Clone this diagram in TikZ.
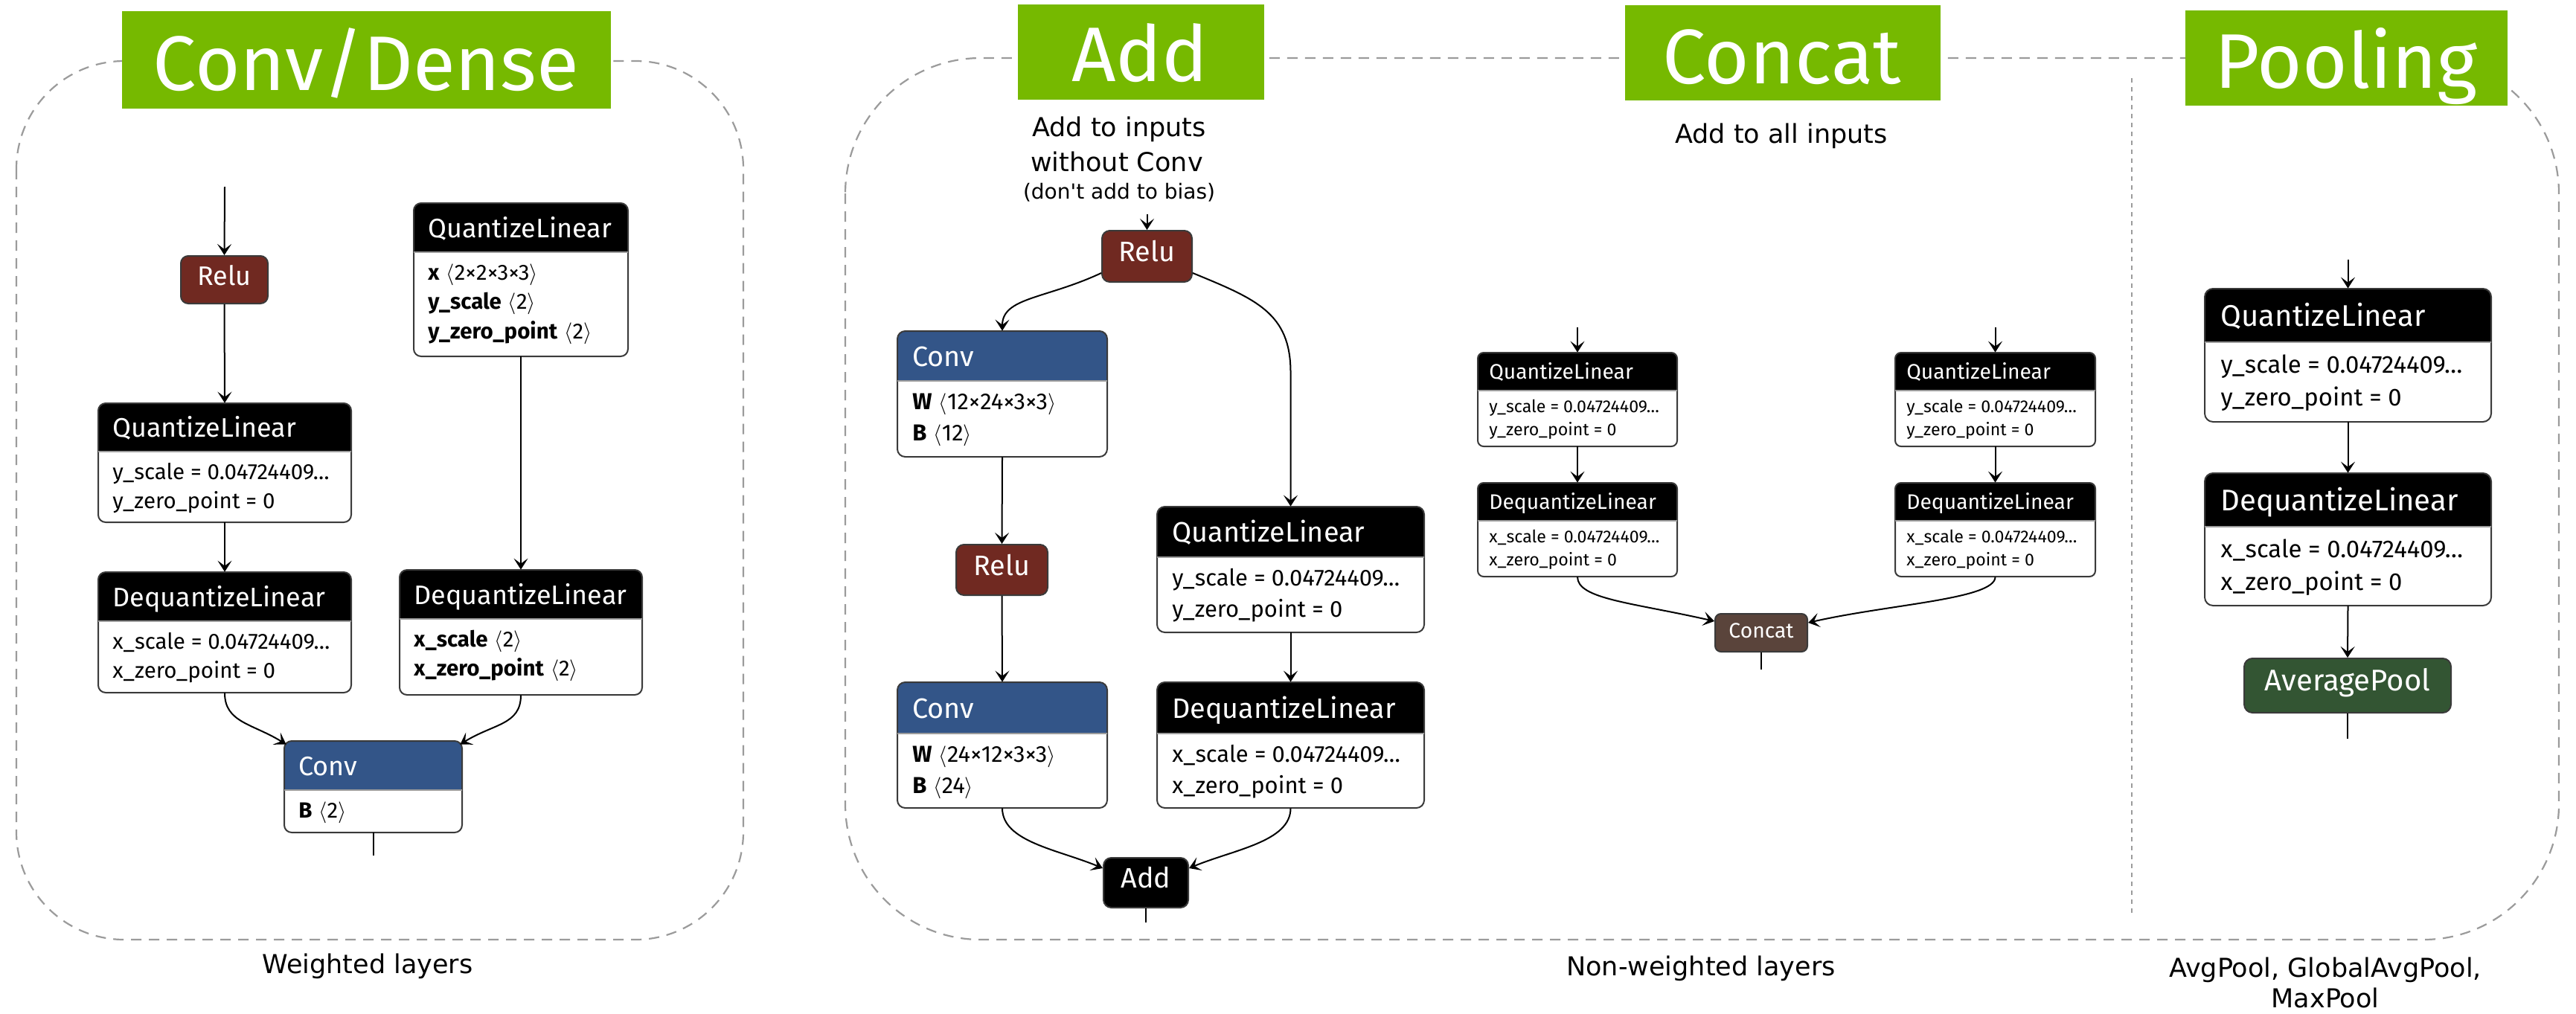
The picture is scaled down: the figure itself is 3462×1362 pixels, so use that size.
\documentclass[tikz,border=0pt]{standalone}
\usepackage{fontspec}
\setmainfont{Fira Sans}
\newfontfamily\nfont{Fira Sans}
\newfontfamily\capfont{DejaVu Sans}
\usetikzlibrary{arrows.meta,calc,fit}
\definecolor{nvgreen}{HTML}{76B900}
\definecolor{relucol}{HTML}{702921}
\definecolor{convcol}{HTML}{335588}
\definecolor{catcol}{HTML}{5A443B}
\definecolor{poolcol}{HTML}{335533}
\definecolor{nborder}{HTML}{3A3A3A}
\definecolor{dashgray}{HTML}{9B9B9B}
\newcommand\tsh[1]{\hspace{0.3em}$\langle$#1$\rangle$}
\newcommand\setpanel[1]{%
  \pgfmathsetmacro\hfs{18*#1}%
  \pgfmathsetmacro\bfs{14.75*#1}%
  \pgfmathsetmacro\bsk{19.75*#1}%
  \pgfmathsetmacro\boff{37*#1}%
  \pgfmathsetmacro\pad{19*#1}%
  \pgfmathsetmacro\hb{13*#1}%
  \pgfmathsetmacro\rcv{5*#1}}
\newcommand\tnode[9]{%
  \node[fit={(#2,#3)(#4,#5)}, inner sep=0pt] (#1) {};
  \fill[#7, rounded corners=\rcv pt] (#2,#3) rectangle (#4,#5);
  \fill[white, rounded corners=\rcv pt] (#2,#6) rectangle (#4,#5);
  \fill[white] (#2,#6) rectangle (#4,{#6+15});
  \draw[nodeline, rounded corners=\rcv pt] (#2,#3) rectangle (#4,#5);
  \draw[sepline] (#2,#6) -- (#4,#6);
  \node[hdrtext, anchor=base west] (#1-h) at ({#2+\pad},{(#3+#6)/2+\hb}) {#8};
  \node[bodytext, anchor=base west] (#1-b) at ({#2+\pad},{#6+\boff}) {\begin{tabular}[t]{@{}l@{}}#9\end{tabular}};
}
\newcommand\pill[7]{%
  \node[pillst, fill=#6, minimum width={(#4-#2)*0.5pt}, minimum height={(#5-#3)*0.5pt}] (#1) at ({(#2+#4)/2},{(#3+#5)/2}) {#7};}
\tikzset{
  panel/.style={draw=dashgray, line width=1.1pt, dash pattern=on 7pt off 5pt},
  sepst/.style={draw=dashgray, line width=0.7pt, dash pattern=on 3pt off 3pt},
  edge/.style={draw=black, line width=1pt, -{Stealth[length=7.5pt,width=9.5pt,inset=3.5pt]}},
  stub/.style={draw=black, line width=1pt},
  nodeline/.style={draw=nborder, line width=1pt},
  sepline/.style={draw=nborder!50, line width=0.6pt},
  hdrtext/.style={text=white, inner sep=0pt, font=\nfont\fontsize{\hfs}{\hfs}\selectfont},
  bodytext/.style={text=black, inner sep=0pt, font=\nfont\fontsize{\bfs}{\bsk}\selectfont},
  pillst/.style={draw=nborder, line width=1pt, rounded corners=\rcv pt, text=white, inner sep=0pt, font=\nfont\fontsize{\hfs}{\hfs}\selectfont, text height=0.7em, text depth=0pt},
  titlebox/.style={fill=nvgreen, inner sep=0pt},
  titletext/.style={text=white, inner sep=0pt, font=\nfont\fontsize{52}{52}\selectfont},
  captext/.style={text=black, inner sep=0pt, font=\capfont\fontsize{17.5}{21}\selectfont},
  capsmall/.style={text=black, inner sep=0pt, font=\capfont\fontsize{14}{17}\selectfont},
}
\begin{document}
\begin{tikzpicture}[x=0.5pt,y=-0.5pt]
\fill[white] (0,0) rectangle (3462,1362);
\useasboundingbox (0,0) rectangle (3462,1362);

% panels
\draw[panel, rounded corners=72.5pt] (22,82) rectangle (999,1263);
\draw[panel, rounded corners=91pt] (1136,78) rectangle (3439,1263);
\draw[sepst] (2865,105) -- (2865,1227);

% titles
\node[titlebox, fit={(164,15)(821,146)}] (t1) {};
\node[titletext, anchor=base] (t1t) at (492,121) {Conv/Dense};
\node[titlebox, fit={(1368,6)(1699,134)}] (t2) {};
\node[titletext, anchor=base] (t2t) at (1532,109) {Add};
\node[titlebox, fit={(2184,7)(2608,135)}] (t3) {};
\node[titletext, anchor=base] (t3t) at (2395,112) {Concat};
\node[titlebox, fit={(2937,14)(3370,142)}] (t4) {};
\node[titletext, anchor=base] (t4t) at (3153,118) {Pooling};

% captions
\node[captext, anchor=base] (cap1) at (494,1308) {Weighted layers};
\node[captext, anchor=base] (cap2) at (2286,1311) {Non-weighted layers};
\node[captext, anchor=base] (cap3a) at (3125,1313) {AvgPool, GlobalAvgPool,};
\node[captext, anchor=base] (cap3b) at (3125,1354) {MaxPool};
\node[captext, anchor=base] (capa1) at (1504,183) {Add to inputs};
\node[captext, anchor=base] (capa2) at (1501,230) {without Conv};
\node[capsmall, anchor=base] (capa3) at (1504,267) {(don't add to bias)};
\node[captext, anchor=base] (capc) at (2394,192) {Add to all inputs};

% ---------- Panel 1: Conv/Dense
\setpanel{1}
\pill{relu1}{243}{344}{360}{408}{relucol}{Relu}
\tnode{q1}{132}{542}{472}{702}{607}{black}{QuantizeLinear}{y\_scale = 0.04724409…\\y\_zero\_point = 0}
\tnode{q2}{556}{273}{844}{479}{339}{black}{QuantizeLinear}{\textbf{x}\tsh{2×2×3×3}\\\textbf{y\_scale}\tsh{2}\\\textbf{y\_zero\_point}\tsh{2}}
\tnode{dq1}{132}{769}{472}{931}{835}{black}{DequantizeLinear}{x\_scale = 0.04724409…\\x\_zero\_point = 0}
\tnode{dq2}{537}{766}{863}{934}{832}{black}{DequantizeLinear}{\textbf{x\_scale}\tsh{2}\\\textbf{x\_zero\_point}\tsh{2}}
\tnode{cv1}{382}{996}{621}{1119}{1062}{convcol}{Conv}{\textbf{B}\tsh{2}}
\coordinate (in1) at (302,251);
\coordinate (out1) at (501.5,1150);
\draw[edge] (in1) -- (relu1.north);
\draw[edge] (relu1.south) -- (q1.north);
\draw[edge] (q1.south) -- (dq1.north);
\draw[edge] (q2.south) -- (dq2.north);
\draw[edge] (dq1.south) .. controls +(0,40) and +(-45,-28) .. ($(cv1.north west)+(3,5)$);
\draw[edge] (dq2.south) .. controls +(0,40) and +(45,-28) .. ($(cv1.north east)+(-3,5)$);
\draw[stub] (cv1.south) -- (out1);

% ---------- Panel 2: Add
\setpanel{1.05}
\pill{ra}{1481}{310}{1602}{379}{relucol}{Relu}
\tnode{ca1}{1206}{445}{1488}{614}{512}{convcol}{Conv}{\textbf{W}\tsh{12×24×3×3}\\\textbf{B}\tsh{12}}
\pill{rb}{1285}{732}{1408}{800}{relucol}{Relu}
\tnode{qa}{1555}{681}{1914}{850}{749}{black}{QuantizeLinear}{y\_scale = 0.04724409…\\y\_zero\_point = 0}
\tnode{ca2}{1206}{917}{1488}{1086}{986}{convcol}{Conv}{\textbf{W}\tsh{24×12×3×3}\\\textbf{B}\tsh{24}}
\tnode{dqa}{1555}{917}{1914}{1086}{986}{black}{DequantizeLinear}{x\_scale = 0.04724409…\\x\_zero\_point = 0}
\pill{addn}{1483}{1153}{1597}{1220}{black}{Add}
\coordinate (in2) at (1541.5,288);
\coordinate (out2) at (1540,1240);
\draw[edge] (in2) -- (ra.north);
\draw[edge] ($(ra.south west)+(0,-13)$) .. controls +(-75,35) and +(0,-45) .. (ca1.north);
\draw[edge] ($(ra.south east)+(0,-13)$) .. controls +(85,35) and +(0,-80) .. ($(qa.north)+(0,-180)$) -- (qa.north);
\draw[edge] (ca1.south) -- (rb.north);
\draw[edge] (rb.south) -- (ca2.north);
\draw[edge] (qa.south) -- (dqa.north);
\draw[edge] (ca2.south) .. controls +(0,45) and +(-60,-25) .. ($(addn.north west)+(0,15)$);
\draw[edge] (dqa.south) .. controls +(0,45) and +(60,-25) .. ($(addn.north east)+(0,15)$);
\draw[stub] (addn.south) -- (out2);

% ---------- Panel 3: Concat
\setpanel{0.785}
\tnode{qc1}{1986}{474}{2254}{600}{525}{black}{QuantizeLinear}{y\_scale = 0.04724409…\\y\_zero\_point = 0}
\tnode{qc2}{2547}{474}{2816}{600}{525}{black}{QuantizeLinear}{y\_scale = 0.04724409…\\y\_zero\_point = 0}
\tnode{dqc1}{1986}{649}{2254}{775}{700}{black}{DequantizeLinear}{x\_scale = 0.04724409…\\x\_zero\_point = 0}
\tnode{dqc2}{2547}{649}{2816}{775}{700}{black}{DequantizeLinear}{x\_scale = 0.04724409…\\x\_zero\_point = 0}
\pill{cat}{2305}{825}{2429}{876}{catcol}{Concat}
\coordinate (in3a) at (2120,440);
\coordinate (in3b) at (2681.5,440);
\coordinate (out3) at (2367,900);
\draw[edge] (in3a) -- (qc1.north);
\draw[edge] (in3b) -- (qc2.north);
\draw[edge] (qc1.south) -- (dqc1.north);
\draw[edge] (qc2.south) -- (dqc2.north);
\draw[edge] (dqc1.south) .. controls +(0,30) and +(-110,-25) .. ($(cat.north west)+(0,11)$);
\draw[edge] (dqc2.south) .. controls +(0,30) and +(110,-25) .. ($(cat.north east)+(0,13)$);
\draw[stub] (cat.south) -- (out3);

% ---------- Panel 4: Pooling
\setpanel{1.115}
\tnode{qp}{2963}{388}{3348}{567}{460}{black}{QuantizeLinear}{y\_scale = 0.04724409…\\y\_zero\_point = 0}
\tnode{dqp}{2963}{636}{3348}{814}{708}{black}{DequantizeLinear}{x\_scale = 0.04724409…\\x\_zero\_point = 0}
\pill{avg}{3016}{885}{3294}{958}{poolcol}{AveragePool}
\coordinate (in4) at (3155.5,349);
\coordinate (out4) at (3155,993);
\draw[edge] (in4) -- (qp.north);
\draw[edge] (qp.south) -- (dqp.north);
\draw[edge] (dqp.south) -- (avg.north);
\draw[stub] (avg.south) -- (out4);
\end{tikzpicture}
\end{document}
